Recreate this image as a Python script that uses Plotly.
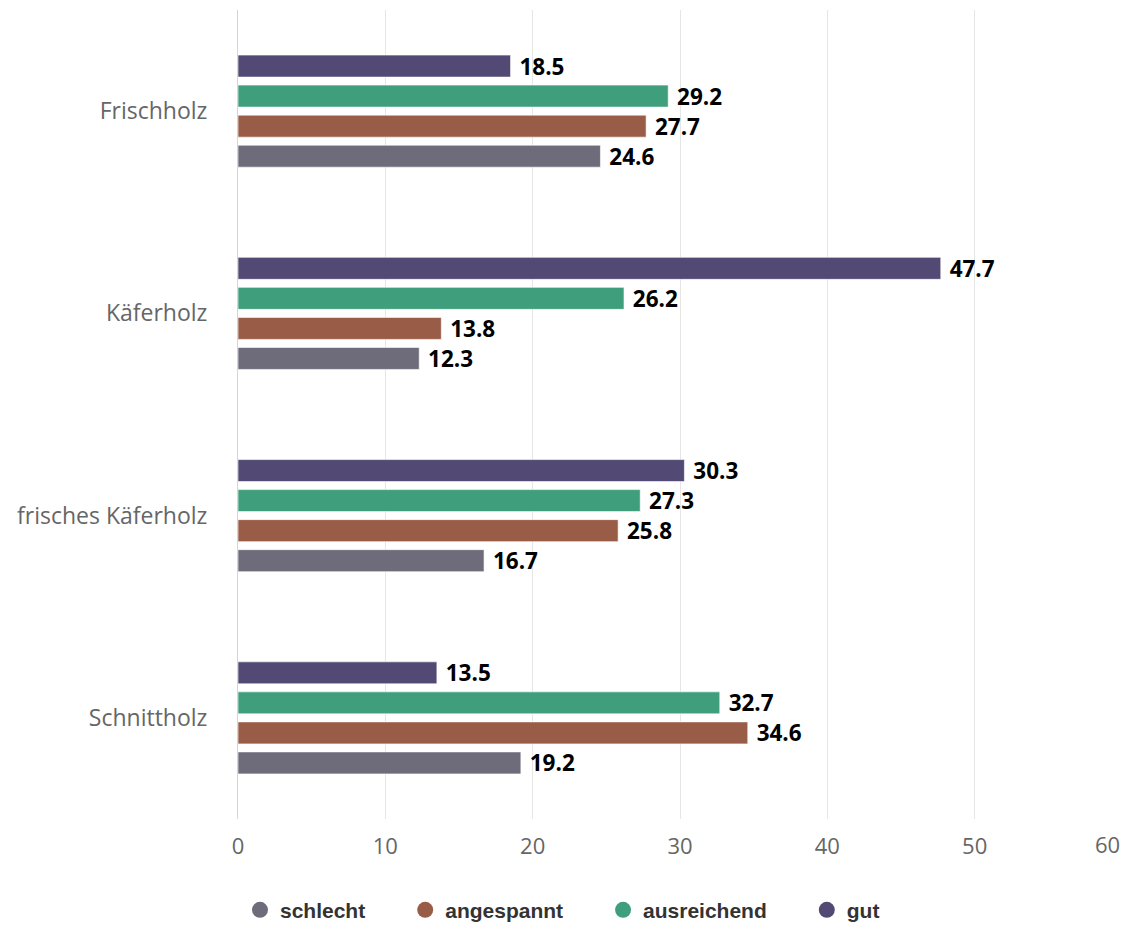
import plotly.graph_objects as go

categories = ["Frischholz", "Käferholz", "frisches Käferholz", "Schnittholz"]
series_names = ["schlecht", "angespannt", "ausreichend", "gut"]
schlecht = [24.6, 12.3, 16.7, 19.2]
angespannt = [27.7, 13.8, 25.8, 34.6]
ausreichend = [29.2, 26.2, 27.3, 32.7]
gut = [18.5, 47.7, 30.3, 13.5]
colors = ["#6e6b7b", "#995c47", "#3f9e7b", "#524a74"]
x_ticks = [0, 10, 20, 30, 40, 50, 60]

fig = go.Figure()
for name, vals, col in zip(series_names, [schlecht, angespannt, ausreichend, gut], colors):
    fig.add_trace(go.Bar(
        y=categories, x=vals, name=name, orientation="h", showlegend=False,
        marker=dict(color=col, line=dict(color="rgba(255,255,255,0.6)", width=1)),
        text=vals, texttemplate=" <b>%{x:.1f}</b>", textposition="outside",
        textfont=dict(family="Open Sans", size=22.5, color="#000000"),
        constraintext="none", cliponaxis=False,
    ))
# legend entries with circle markers
for name, col in zip(series_names, colors):
    fig.add_trace(go.Scatter(
        x=[None], y=[None], mode="markers", name=name + "\u00a0" * 6,
        marker=dict(symbol="circle", size=20, color=col), showlegend=True,
    ))

tick_text = [str(v) for v in x_ticks[:-1]] + [""]
fig.add_annotation(x=x_ticks[-1], y=0, xref="x", yref="paper", yanchor="top",
                   xanchor="right", yshift=-8, text=str(x_ticks[-1]), showarrow=False,
                   font=dict(family="Open Sans", size=22, color="#666666"))

fig.update_layout(
    width=1124, height=925,
    margin=dict(l=238, r=2, t=10, b=106),
    paper_bgcolor="white", plot_bgcolor="white",
    barmode="group", bargap=0.406, bargroupgap=0.267,
    font=dict(family="Open Sans", color="#666666"),
    showlegend=True,
    legend=dict(orientation="h", xref="container", x=0.516, xanchor="center",
                yref="container", y=0.016, yanchor="middle",
                traceorder="normal", itemsizing="trace",
                font=dict(family="Liberation Sans", size=21, color="#333333", weight=700),
                itemwidth=30),
    xaxis=dict(range=[0, 60], tickvals=x_ticks, ticktext=tick_text, showgrid=True,
               gridcolor="#e6e6e6", gridwidth=1, zeroline=False, showline=False,
               tickfont=dict(family="Open Sans", size=22, color="#666666"), ticklen=0,
               ticks="", ticklabelstandoff=12, automargin=False),
    yaxis=dict(categoryorder="array", categoryarray=categories[::-1],
               showline=True, linecolor="#ccd6eb", linewidth=1, showgrid=False,
               ticks="", ticklabelstandoff=25,
               tickfont=dict(family="Open Sans", size=23, color="#666666"), automargin=False),
)
fig.write_html("out.html")
